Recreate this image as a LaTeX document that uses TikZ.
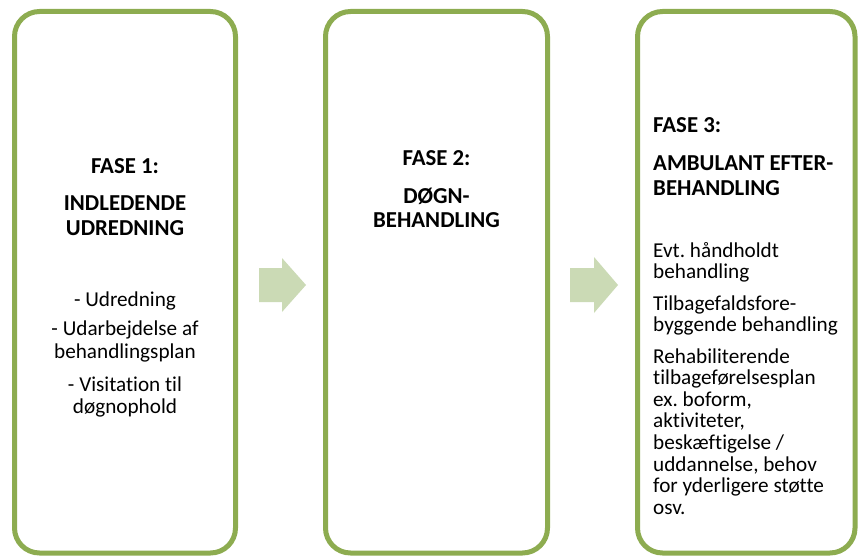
\documentclass[tikz,border=0pt]{standalone}
\usepackage{fontspec}
\setmainfont{Carlito}[Ligatures=NoCommon]
\frenchspacing
\definecolor{boxgreen}{HTML}{8DAC50}
\definecolor{arrowgreen}{HTML}{CBDAB5}
\tikzset{
  phase/.style={draw=boxgreen, line width=5pt, rounded corners=25pt, fill=white},
  head/.style={font=\fontsize{22.8}{25}\selectfont\bfseries\frenchspacing, inner sep=0pt, anchor=base},
  body/.style={font=\fontsize{21.2}{21.6}\selectfont\frenchspacing, inner sep=0pt, anchor=base},
  bodyL/.style={body, anchor=base west},
  headL/.style={head, anchor=base west},
  flow/.style={fill=arrowgreen, draw=none}
}
\begin{document}
\begin{tikzpicture}[x=1pt,y=-1pt]
\useasboundingbox (0,0) rectangle (858,556);
% boxes
\draw[phase] (14.5,11.5) rectangle (235.5,553);
\draw[phase] (325.5,11.5) rectangle (547.5,553);
\draw[phase] (637.5,11.5) rectangle (855,553);
% arrows
\fill[flow] (259,268) -- (282,268) -- (282,258) -- (306,285) -- (282,312) -- (282,302) -- (259,302) -- cycle;
\fill[flow] (570,268) -- (594,268) -- (594,257) -- (618,285) -- (594,313) -- (594,302) -- (570,302) -- cycle;
% box 1 text
\node[head] (f1) at (125,174) {FASE 1:};
\node[head] (f1a) at (125,210) {INDLEDENDE};
\node[head] (f1b) at (125,235) {UDREDNING};
\node[body] (b1a) at (125,306) {- Udredning};
\node[body] (b1b) at (125,335) {- Udarbejdelse af};
\node[body] (b1c) at (125,358) {behandlingsplan};
\node[body] (b1d) at (125,391) {- Visitation til};
\node[body] (b1e) at (125,413) {døgnophold};
% box 2 text
\node[head] (f2) at (436.5,165) {FASE 2:};
\node[head] (f2a) at (436.5,203) {DØGN-};
\node[head] (f2b) at (436.5,227) {BEHANDLING};
% box 3 text
\node[headL] (f3) at (653,133) {FASE 3:};
\node[headL] (f3a) at (653,170) {AMBULANT EFTER-};
\node[headL] (f3b) at (653,195) {BEHANDLING};
\node[bodyL] (c1) at (653,257) {Evt. håndholdt};
\node[bodyL] (c2) at (653,278.5) {behandling};
\node[bodyL] (c3) at (653,310) {Tilbagefaldsfore-};
\node[bodyL] (c4) at (653,331.5) {byggende behandling};
\node[bodyL] (c5) at (653,363) {Rehabiliterende};
\node[bodyL] (c6) at (653,384.6) {tilbageførelsesplan};
\node[bodyL] (c7) at (653,406.2) {ex. boform,};
\node[bodyL] (c8) at (653,427.8) {aktiviteter,};
\node[bodyL] (c9) at (653,449.4) {beskæftigelse /};
\node[bodyL] (c10) at (653,471) {uddannelse, behov};
\node[bodyL] (c11) at (653,492.6) {for yderligere støtte};
\node[bodyL] (c12) at (653,514.2) {osv.};
\end{tikzpicture}
\end{document}
